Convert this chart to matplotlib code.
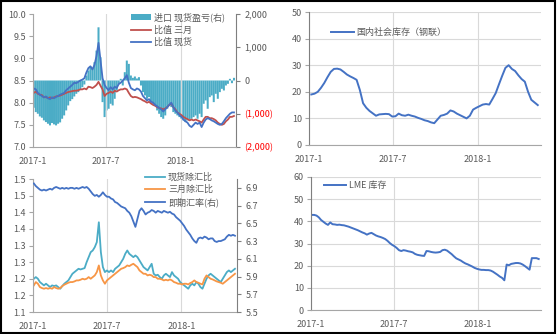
import math
import numpy as np
import pandas as pd
import matplotlib
matplotlib.use('Agg')
import matplotlib.pyplot as plt
import matplotlib.dates as mdates
from matplotlib.ticker import FixedLocator, FuncFormatter, MultipleLocator
from matplotlib.patches import Rectangle

plt.rcParams['font.family'] = ['Noto Sans CJK SC', 'DejaVu Sans']
plt.rcParams['font.size'] = 6.5

# ---- data ----
# 5-day sampled daily series
days = pd.date_range('2017-01-03', periods=100, freq='5D')
# weekly series
weeks = pd.date_range('2017-01-06', periods=71, freq='7D')

# import profit/loss, spot (right axis)
import_pl = [-820, -950, -1000, -1080, -1120, -1200, -1250, -1300, -1350, -1280,
             -1320, -1350, -1300, -1260, -1150, -1050, -900, -750, -620, -560,
             -480, -400, -350, -280, -200, -120, 150, 300, 420, 380,
             550, 900, 1600, 700, -650, -1100, -900, -850, -700, -750,
             -550, -300, -100, 50, -150, 250, 600, 500, 150, 80,
             120, 60, 100, -150, -350, -450, -550, -500, -650, -700,
             -750, -900, -1000, -1100, -1150, -1050, -850, -750, -800, -950,
             -1000, -1050, -1100, -1150, -1200, -1250, -1200, -1180, -1150, -1100,
             -1050, -1150, -1000, -1100, -700, -600, -850, -500, -450, -650,
             -400, -550, -350, -250, -300, -150, -100, 50, -80, 80]
ratio_3m = [8.22, 8.25, 8.20, 8.18, 8.17, 8.12, 8.13, 8.10, 8.12, 8.10,
            8.12, 8.14, 8.15, 8.16, 8.18, 8.20, 8.22, 8.24, 8.25, 8.26,
            8.27, 8.27, 8.28, 8.30, 8.30, 8.32, 8.30, 8.36, 8.35, 8.33,
            8.36, 8.40, 8.47, 8.38, 8.30, 8.15, 8.20, 8.22, 8.25, 8.22,
            8.27, 8.25, 8.28, 8.30, 8.30, 8.32, 8.30, 8.22, 8.15, 8.12,
            8.13, 8.12, 8.10, 8.08, 8.05, 8.03, 8.00, 8.02, 7.98, 7.95,
            7.93, 7.90, 7.88, 7.87, 7.85, 7.87, 7.90, 7.95, 7.98, 7.90,
            7.85, 7.78, 7.75, 7.72, 7.68, 7.65, 7.63, 7.60, 7.62, 7.60,
            7.62, 7.60, 7.58, 7.55, 7.62, 7.68, 7.68, 7.65, 7.65, 7.63,
            7.60, 7.55, 7.52, 7.50, 7.52, 7.58, 7.62, 7.68, 7.68, 7.70]
ratio_spot = [8.32, 8.30, 8.22, 8.18, 8.15, 8.12, 8.14, 8.10, 8.08, 8.12,
              8.10, 8.13, 8.15, 8.18, 8.20, 8.22, 8.28, 8.32, 8.36, 8.40,
              8.45, 8.44, 8.47, 8.50, 8.52, 8.55, 8.68, 8.78, 8.82, 8.75,
              8.85, 9.05, 9.35, 8.95, 8.55, 8.40, 8.33, 8.28, 8.35, 8.30,
              8.36, 8.33, 8.42, 8.45, 8.50, 8.55, 8.62, 8.45, 8.33, 8.30,
              8.28, 8.32, 8.30, 8.25, 8.15, 8.10, 8.05, 8.08, 8.02, 8.00,
              7.95, 7.92, 7.88, 7.85, 7.80, 7.85, 7.90, 7.95, 8.00, 7.90,
              7.82, 7.78, 7.72, 7.68, 7.62, 7.58, 7.55, 7.48, 7.45, 7.50,
              7.55, 7.52, 7.55, 7.45, 7.55, 7.62, 7.65, 7.63, 7.60, 7.58,
              7.55, 7.52, 7.50, 7.52, 7.58, 7.65, 7.70, 7.75, 7.78, 7.78]

# domestic social inventory (weekly)
social_stock = [19.0, 19.3, 20.0, 21.5, 23.3, 25.5, 27.5, 28.6, 28.7, 28.4,
                27.5, 26.5, 25.8, 25.2, 24.5, 20.7, 15.7, 14.0, 12.8, 11.9,
                11.0, 11.5, 11.6, 11.7, 11.6, 10.7, 10.8, 11.8, 11.2, 11.0,
                11.4, 11.0, 10.7, 10.2, 9.8, 9.3, 9.0, 8.5, 8.2, 9.6,
                11.0, 11.3, 11.8, 13.0, 12.6, 11.8, 11.2, 10.6, 10.0, 11.0,
                13.3, 14.0, 14.6, 15.2, 15.4, 15.2, 17.3, 19.5, 22.8, 26.0,
                29.0, 30.0, 28.6, 27.8, 26.2, 24.8, 23.8, 20.0, 17.0, 16.0,
                15.0]

# spot / 3M ratios divided by fx, and spot fx (right axis)
spot_fx = [1.20, 1.205, 1.20, 1.19, 1.185, 1.18, 1.185, 1.18, 1.175, 1.18,
           1.178, 1.18, 1.175, 1.17, 1.178, 1.185, 1.19, 1.195, 1.205, 1.215,
           1.22, 1.225, 1.23, 1.228, 1.23, 1.232, 1.25, 1.265, 1.28, 1.285,
           1.295, 1.31, 1.37, 1.28, 1.235, 1.22, 1.225, 1.22, 1.225, 1.22,
           1.23, 1.235, 1.24, 1.25, 1.26, 1.275, 1.285, 1.275, 1.27, 1.265,
           1.27, 1.265, 1.255, 1.245, 1.235, 1.23, 1.225, 1.235, 1.245, 1.215,
           1.21, 1.212, 1.205, 1.20, 1.21, 1.215, 1.21, 1.205, 1.22, 1.21,
           1.205, 1.20, 1.19, 1.185, 1.18, 1.175, 1.17, 1.18, 1.185, 1.18,
           1.19, 1.185, 1.175, 1.17, 1.185, 1.20, 1.21, 1.215, 1.21, 1.205,
           1.20, 1.195, 1.19, 1.20, 1.21, 1.22, 1.225, 1.22, 1.225, 1.23]
m3_fx = [1.18, 1.19, 1.185, 1.175, 1.172, 1.17, 1.172, 1.17, 1.172, 1.17,
         1.175, 1.172, 1.17, 1.172, 1.178, 1.182, 1.185, 1.188, 1.19, 1.19,
         1.192, 1.195, 1.195, 1.197, 1.20, 1.198, 1.20, 1.205, 1.20, 1.205,
         1.21, 1.22, 1.24, 1.21, 1.195, 1.185, 1.195, 1.20, 1.205, 1.21,
         1.215, 1.22, 1.225, 1.23, 1.232, 1.235, 1.24, 1.238, 1.242, 1.245,
         1.24, 1.235, 1.225, 1.22, 1.215, 1.215, 1.21, 1.212, 1.21, 1.205,
         1.205, 1.20, 1.20, 1.198, 1.195, 1.197, 1.195, 1.198, 1.195, 1.19,
         1.188, 1.185, 1.185, 1.183, 1.185, 1.185, 1.183, 1.187, 1.19, 1.195,
         1.19, 1.188, 1.185, 1.183, 1.20, 1.21, 1.205, 1.20, 1.198, 1.195,
         1.192, 1.19, 1.188, 1.185, 1.19, 1.195, 1.20, 1.205, 1.21, 1.215]
fx_rate = [6.95, 6.92, 6.90, 6.88, 6.87, 6.88, 6.87, 6.88, 6.89, 6.88,
           6.90, 6.91, 6.90, 6.89, 6.90, 6.89, 6.90, 6.89, 6.90, 6.90,
           6.89, 6.90, 6.89, 6.90, 6.91, 6.90, 6.91, 6.89, 6.86, 6.83,
           6.81, 6.82, 6.80, 6.82, 6.85, 6.82, 6.80, 6.80, 6.78, 6.77,
           6.74, 6.73, 6.71, 6.69, 6.68, 6.67, 6.64, 6.62, 6.58, 6.52,
           6.46, 6.55, 6.64, 6.67, 6.64, 6.60, 6.62, 6.63, 6.65, 6.64,
           6.62, 6.64, 6.63, 6.62, 6.64, 6.63, 6.62, 6.63, 6.61, 6.60,
           6.57, 6.55, 6.53, 6.50, 6.47, 6.43, 6.40, 6.37, 6.33, 6.30,
           6.28, 6.33, 6.34, 6.33, 6.35, 6.34, 6.32, 6.33, 6.33, 6.30,
           6.29, 6.30, 6.30, 6.31, 6.32, 6.35, 6.37, 6.36, 6.37, 6.36]

# LME inventory
lme_stock = [42.9, 42.9, 42.6, 41.8, 40.6, 39.8, 39.0, 38.4, 39.5, 38.7,
             38.6, 38.4, 38.5, 38.3, 38.2, 37.9, 37.6, 37.2, 36.8, 36.4,
             36.0, 35.5, 35.0, 34.6, 34.0, 34.5, 34.8, 34.2, 33.6, 33.2,
             32.9, 32.5, 32.0, 31.2, 30.2, 29.4, 28.8, 28.0, 27.0, 26.6,
             27.0, 26.8, 26.5, 26.3, 26.0, 25.3, 24.9, 24.7, 24.5, 24.4,
             26.6, 26.5, 26.2, 26.0, 25.9, 26.0, 26.2, 27.0, 27.2, 26.8,
             26.0, 25.2, 24.2, 23.3, 22.8, 22.3, 21.6, 21.0, 20.6, 20.1,
             19.6, 19.0, 18.6, 18.3, 18.1, 18.1, 18.0, 18.0, 17.8, 17.3,
             16.6, 15.9, 15.1, 14.5, 13.4, 20.5, 20.2, 20.8, 21.0, 21.2,
             21.2, 21.0, 20.5, 19.8, 19.0, 18.2, 23.4, 23.4, 23.4, 23.0]

xticks = [pd.Timestamp('2017-01-01'), pd.Timestamp('2017-07-01'), pd.Timestamp('2018-01-01')]
xticklabels = ['2017-1', '2017-7', '2018-1']
xlim = (pd.Timestamp('2017-01-01'), pd.Timestamp('2018-05-18'))

C_BAR = '#4BACC6'
C_BLUE = '#4472C4'
C_RED = '#C0504D'
C_ORANGE = '#F79646'
C_CYAN = '#4BACC6'
TXT = '#595959'
GRID = '#D9D9D9'
SPINE = '#A6A6A6'

W, H = 558, 334
fig = plt.figure(figsize=(W / 100, H / 100), dpi=100)


def box(l, t, r, b):
    return [l / W, 1 - b / H, (r - l) / W, (b - t) / H]


def style_axis(ax, hgrid):
    for s in ['top', 'right']:
        ax.spines[s].set_visible(False)
    ax.spines['left'].set_color(SPINE)
    ax.spines['bottom'].set_color(SPINE)
    ax.spines['left'].set_linewidth(0.8)
    ax.spines['bottom'].set_linewidth(0.8)
    ax.set_xlim(xlim)
    ax.xaxis.set_major_locator(FixedLocator([mdates.date2num(d) for d in xticks]))
    ax.set_xticklabels(xticklabels)
    ax.tick_params(axis='x', length=0, pad=7, labelcolor=TXT, labelsize=6.5)
    ax.tick_params(axis='y', length=3, width=0.8, color=SPINE, pad=2,
                   labelcolor=TXT, labelsize=6.5)
    ax.xaxis.grid(True, color=GRID, linewidth=0.8)
    if hgrid:
        ax.yaxis.grid(True, color=GRID, linewidth=0.8)
    ax.set_axisbelow(True)


def paren_fmt(v, pos):
    if v < 0:
        return '({:,.0f})'.format(-v)
    return '{:,.0f}'.format(v)


def round_half_up(v, pos):
    return '{:.1f}'.format(math.floor(v * 10 + 0.5 + 1e-9) / 10)


# ---- top left: ratios and import profit ----
ax1 = fig.add_axes(box(33, 14, 236, 147))
ax1r = ax1.twinx()
style_axis(ax1, False)
bars = ax1r.bar(days, import_pl, width=5.0, color=C_BAR, linewidth=0)
for b in bars:
    b.set_snap(False)
l1, = ax1.plot(days, ratio_3m, color=C_RED, lw=1.3)
l2, = ax1.plot(days, ratio_spot, color=C_BLUE, lw=1.3)
ax1.set_zorder(ax1r.get_zorder() + 1)
ax1.patch.set_visible(False)
ax1.set_ylim(7.0, 10.0)
ax1.yaxis.set_major_locator(MultipleLocator(0.5))
ax1.yaxis.set_major_formatter(FuncFormatter(lambda v, p: '{:.1f}'.format(v)))
ax1r.set_ylim(-2000, 2000)
ax1r.yaxis.set_major_locator(MultipleLocator(1000))
ax1r.yaxis.set_major_formatter(FuncFormatter(paren_fmt))
for s in ['top', 'left', 'bottom']:
    ax1r.spines[s].set_visible(False)
ax1r.spines['right'].set_color('#7F7F7F')
ax1r.spines['right'].set_linewidth(0.8)
ax1r.tick_params(axis='y', length=3, width=0.8, color='#7F7F7F', pad=3,
                 labelcolor=TXT, labelsize=6.5)
fig.canvas.draw()
for t in ax1r.get_yticklabels():
    if t.get_text().startswith('('):
        t.set_color('#FF0000')
ax1.legend([bars, l1, l2], ['进口 现货盈亏(右)', '比值 三月', '比值 现货'],
           loc='upper left', bbox_to_anchor=(0.45, 1.06), frameon=False,
           fontsize=6.5, handlelength=2.2, handleheight=0.5, labelspacing=0.35,
           borderpad=0.2, handletextpad=0.4, labelcolor=TXT)

# ---- top right: domestic social inventory ----
ax2 = fig.add_axes(box(309, 12, 541, 145))
style_axis(ax2, True)
ax2.spines['left'].set_color('#7F7F7F')
ax2.plot(weeks, social_stock, color=C_BLUE, lw=1.4, label='国内社会库存（钢联）')
ax2.set_ylim(0, 50)
ax2.yaxis.set_major_locator(MultipleLocator(10))
ax2.legend(loc='upper left', bbox_to_anchor=(0.06, 0.94), frameon=False,
           fontsize=6.5, handlelength=2.5, handletextpad=0.3, labelcolor=TXT)

# ---- bottom left: ratios divided by fx and spot fx ----
ax3 = fig.add_axes(box(33, 179, 237, 312))
ax3r = ax3.twinx()
style_axis(ax3, False)
l3, = ax3.plot(days, spot_fx, color=C_CYAN, lw=1.3)
l4, = ax3.plot(days, m3_fx, color=C_ORANGE, lw=1.3)
l5, = ax3r.plot(days, fx_rate, color=C_BLUE, lw=1.3)
ax3.set_ylim(1.1, 1.5)
ax3.yaxis.set_major_locator(MultipleLocator(0.05))
ax3.yaxis.set_major_formatter(FuncFormatter(round_half_up))
ax3r.set_ylim(5.5, 7.0)
ax3r.yaxis.set_major_locator(FixedLocator([5.5, 5.7, 5.9, 6.1, 6.3, 6.5, 6.7, 6.9]))
ax3r.yaxis.set_major_formatter(FuncFormatter(lambda v, p: '{:.1f}'.format(v)))
for s in ['top', 'left', 'bottom']:
    ax3r.spines[s].set_visible(False)
ax3r.spines['right'].set_color('#7F7F7F')
ax3r.spines['right'].set_linewidth(0.8)
ax3r.tick_params(axis='y', length=3, width=0.8, color='#7F7F7F', pad=3,
                 labelcolor=TXT, labelsize=6.5)
ax3r.legend([l3, l4, l5], ['现货除汇比', '三月除汇比', '即期汇率(右)'],
            loc='upper left', bbox_to_anchor=(0.52, 1.095), frameon=False,
            fontsize=6.5, handlelength=2.2, labelspacing=0.35,
            borderpad=0.2, handletextpad=0.3, labelcolor=TXT)

# ---- bottom right: LME inventory ----
ax4 = fig.add_axes(box(311, 177, 541, 310))
style_axis(ax4, True)
ax4.spines['left'].set_color('#7F7F7F')
ax4.plot(days, lme_stock, color=C_BLUE, lw=1.4, label='LME 库存')
ax4.set_ylim(0, 60)
ax4.yaxis.set_major_locator(MultipleLocator(10))
ax4.legend(loc='upper left', bbox_to_anchor=(0.02, 1.03), frameon=False,
           fontsize=6.5, handlelength=2.5, handletextpad=0.3, labelcolor=TXT)

# outer frame
fig.patches.append(Rectangle((0.5 / W, 1.5 / H), 554.5 / W, 331.5 / H,
                             transform=fig.transFigure, fill=False,
                             edgecolor='black', linewidth=1.5))

fig.savefig('out.png', dpi=100)
